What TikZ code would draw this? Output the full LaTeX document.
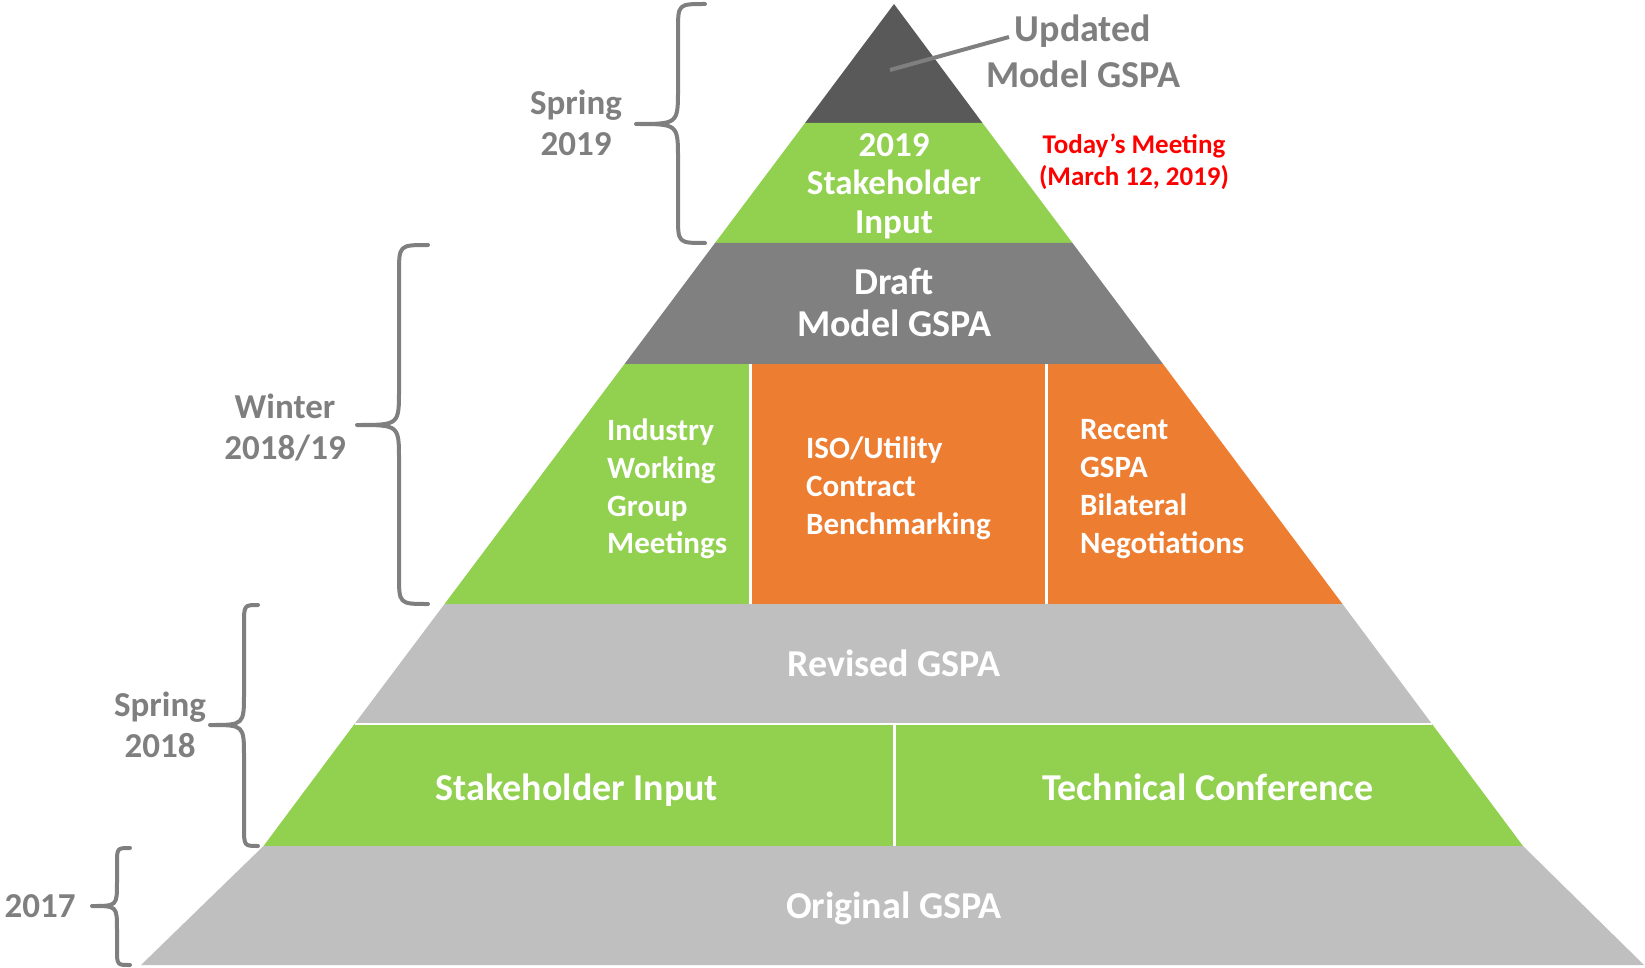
\documentclass[tikz,border=0pt]{standalone}
\usepackage{fontspec}
\setmainfont{Carlito}
\definecolor{topgray}{HTML}{595959}
\definecolor{midgray}{HTML}{808080}
\definecolor{lightgray}{HTML}{BFBFBF}
\definecolor{pgreen}{HTML}{92D050}
\definecolor{porange}{HTML}{ED7D31}
\definecolor{labgray}{HTML}{7F7F7F}
\definecolor{todayred}{HTML}{FF0000}
\begin{document}
\begin{tikzpicture}[x=1pt,y=-1pt,
  layertext/.style={inner sep=0pt,text=white,font=\bfseries\fontsize{38}{42}\selectfont,align=center},
  smalltext/.style={inner sep=0pt,text=white,font=\bfseries\fontsize{31}{37.8}\selectfont,align=left,anchor=west},
  sidelabel/.style={inner sep=0pt,text=labgray,font=\bfseries\fontsize{35}{41}\selectfont,align=center},
  bracestyle/.style={draw=labgray,line width=4pt,line cap=round,line join=round},
  divider/.style={draw=white,line width=3pt},
  leader/.style={draw=labgray,line width=4pt}]
\useasboundingbox (0,0) rectangle (1645,968);

% pyramid layers
\fill[topgray] (894,4) -- (982.5,123) -- (805,123) -- cycle;
\fill[pgreen] (805,123) -- (982.5,123) -- (1072.5,243) -- (715,243) -- cycle;
\fill[midgray] (715,243) -- (1072.5,243) -- (1163,364) -- (624.5,364) -- cycle;
\fill[pgreen] (624.5,364) -- (750,364) -- (750,604) -- (444.5,604) -- cycle;
\fill[porange] (750,364) -- (1163,364) -- (1342.5,604) -- (750,604) -- cycle;
\fill[lightgray] (444.5,604) -- (1342.5,604) -- (1432,724) -- (354.5,724) -- cycle;
\fill[pgreen] (354.5,724) -- (1432,724) -- (1523,846) -- (263.5,846) -- cycle;
\fill[lightgray] (263.5,846) -- (1523,846) -- (1644,965) -- (141,965) -- cycle;

% white separators
\draw[divider] (750,364) -- (750,604);
\draw[divider] (1046,364) -- (1046,604);
\draw[divider] (894,724) -- (894,846);
\draw[draw=white,line width=2pt] (354.5,724) -- (1432,724);

% texts in layers
\node[layertext,font=\bfseries\fontsize{35}{38.5}\selectfont] (stake19) at (894,186) {2019\\Stakeholder\\Input};
\node[layertext] (draft) at (894,302) {Draft\\Model GSPA};
\node[smalltext] (industry) at (607,489) {Industry\\Working\\Group\\Meetings};
\node[smalltext] (iso) at (806,488) {ISO/Utility\\Contract\\Benchmarking};
\node[smalltext] (recent) at (1080,489) {Recent\\GSPA\\Bilateral\\Negotiations};
\node[layertext] (revised) at (894,663) {Revised GSPA};
\node[layertext] (stake18) at (577,790) {Stakeholder Input};
\node[layertext] (techconf) at (1208,787) {Technical Conference};
\node[layertext] (original) at (894,908) {Original GSPA};

% top label and leader
\node[inner sep=0pt,text=labgray,font=\bfseries\fontsize{38}{46}\selectfont,align=center] (updated) at (1083,51) {Updated\\Model GSPA};
\coordinate (leadin) at (890,70);
\coordinate (leadout) at (1009,37);
\draw[leader] (leadin) -- (leadout);

% today's meeting
\node[inner sep=0pt,text=todayred,font=\bfseries\fontsize{27}{32}\selectfont,align=center] (today) at (1134,162) {Today’s Meeting\\(March 12, 2019)};

% side labels
\node[sidelabel] (spring19) at (576,123) {Spring\\2019};
\node[sidelabel] (winter) at (285,428) {Winter\\2018/19};
\node[sidelabel] (spring18) at (160,725) {Spring\\2018};
\node[sidelabel] (y2017) at (40,906) {2017};

% braces
\draw[bracestyle] (705,4) .. controls (678,4) .. (678,31) -- (678,89) .. controls (678,124) .. (636,124) .. controls (678,124) .. (678,159) -- (678,216) .. controls (678,243) .. (705,243);
\draw[bracestyle] (428,245) .. controls (399,245) .. (399,274) -- (399,390) .. controls (399,425) .. (357,425) .. controls (399,425) .. (399,460) -- (399,575) .. controls (399,604) .. (428,604);
\draw[bracestyle] (258,605) .. controls (244,605) .. (244,625) -- (244,693) .. controls (244,725) .. (210,725) .. controls (244,725) .. (244,757) -- (244,826) .. controls (244,846) .. (258,846);
\draw[bracestyle] (130,848) .. controls (117,848) .. (117,864) -- (117,882) .. controls (117,906) .. (92,906) .. controls (117,906) .. (117,930) -- (117,949) .. controls (117,965) .. (130,965);
\end{tikzpicture}
\end{document}
